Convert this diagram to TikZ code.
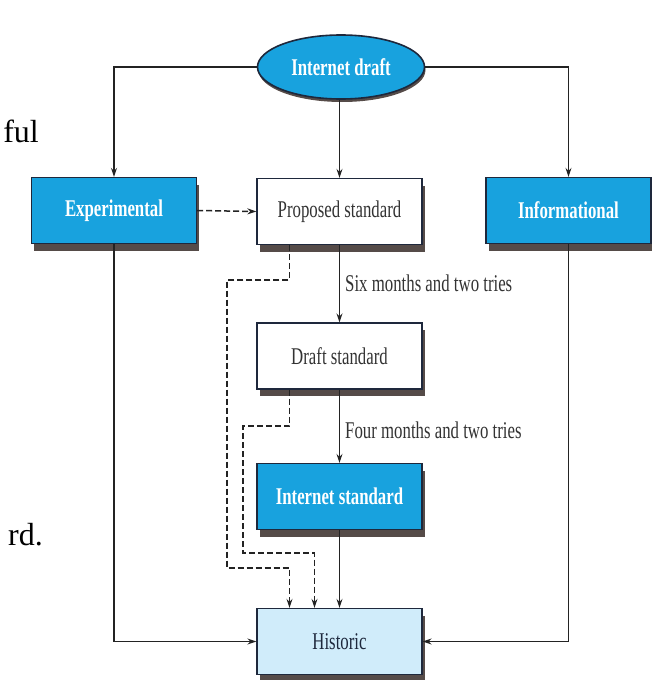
\documentclass[tikz,border=0pt]{standalone}
\usepackage{fontspec}
\setmainfont{Liberation Serif}
\newfontfamily\cond[FakeStretch=0.7]{Liberation Serif}
\usetikzlibrary{arrows.meta,shapes.geometric,shadows}
\definecolor{boxblue}{RGB}{24,162,222}
\definecolor{histblue}{RGB}{208,236,250}
\definecolor{edge}{RGB}{30,40,60}
\definecolor{shade}{RGB}{85,75,72}
\definecolor{linec}{RGB}{35,35,35}
\begin{document}
\begin{tikzpicture}[x=1pt,y=-1pt,
  base/.style={rectangle, minimum width=165pt, minimum height=66pt, inner sep=0pt, draw=edge, line width=1.3pt,
    font=\cond\fontsize{24}{28}\selectfont,
    drop shadow={shadow xshift=2.5pt,shadow yshift=-7pt,fill=shade,opacity=1}},
  bluebox/.style={base, fill=boxblue, text=white, font=\cond\bfseries\fontsize{24}{28}\selectfont},
  whitebox/.style={base, fill=white, text=black!80},
  histbox/.style={base, fill=histblue, text=edge},
  conn/.style={draw=linec, line width=1.2pt, -{Stealth[length=9pt,width=6pt]}},
  dconn/.style={conn, dash pattern=on 6pt off 3pt, line width=1.5pt},
  lbl/.style={anchor=west, font=\cond\fontsize{24}{28}\selectfont, text=black!80, inner sep=0pt},
  page/.style={font=\fontsize{32}{36}\selectfont, inner sep=0pt}
]
\useasboundingbox (0,0) rectangle (651,680);
\fill[white] (0,0) rectangle (651,680);

\node[ellipse, minimum width=167pt, minimum height=64pt, inner sep=0pt, fill=boxblue, draw=edge, line width=1.6pt,
  text=white, font=\cond\bfseries\fontsize{24}{28}\selectfont,
  drop shadow={shadow xshift=1pt,shadow yshift=-3pt,fill=shade,opacity=1}] (idraft) at (341,67) {Internet draft};
\node[bluebox] (exp) at (114,210.5) {Experimental};
\node[whitebox] (prop) at (339.5,211.5) {Proposed standard};
\node[bluebox] (inf) at (568.5,210.5) {Informational};
\node[whitebox] (dstd) at (339.5,356) {Draft standard};
\node[bluebox] (istd) at (339.5,496.5) {Internet standard};
\node[histbox] (hist) at (339.5,641.5) {Historic};

\node[lbl] (l1) at (345,283) {Six months and two tries};
\node[lbl] (l2) at (345,430) {Four months and two tries};

\node[page, anchor=base east] (ful) at (39,142) {ful};
\node[page, anchor=base east] (rd) at (43,545) {rd.};

\draw[conn] (idraft.west) -| (exp.north);
\draw[conn] (idraft.east) -| (inf.north);
\draw[conn] (idraft.south -| prop.north) -- (prop.north);
\draw[dconn] (exp.east) -- (prop.west);
\draw[conn] (prop.south) -- (dstd.north);
\draw[conn] (dstd.south) -- (istd.north);
\draw[conn] (istd.south) -- (hist.north);
\draw[conn] (exp.south) |- (hist.west);
\draw[conn] (inf.south) |- (hist.east);
\draw[dconn] ([xshift=-50pt]prop.south) |- (227,280) |- (289.5,568) -- ([xshift=-50pt]hist.north);
\draw[dconn] ([xshift=-50pt]dstd.south) |- (243,426) |- (314.5,553) -- ([xshift=-25pt]hist.north);
\end{tikzpicture}
\end{document}
